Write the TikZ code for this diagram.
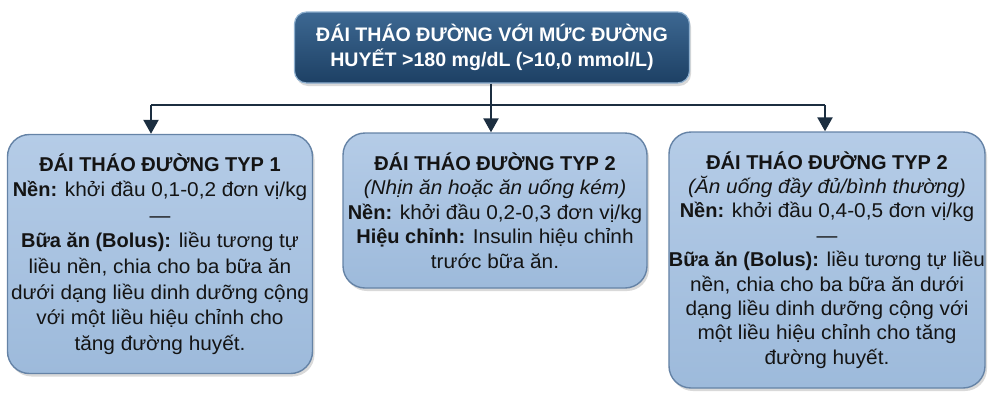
\documentclass[tikz,border=0pt]{standalone}
\usepackage{fontspec}
\setmainfont{Liberation Sans}[FakeStretch=1.04, BoldFont={Liberation Sans Bold}, BoldFeatures={FakeStretch=1.0}]
\usetikzlibrary{arrows.meta,shadows}
\definecolor{navytop}{HTML}{3D6892}
\definecolor{navybot}{HTML}{1D4064}
\definecolor{navyedge}{HTML}{8FB0CF}
\definecolor{boxtop}{HTML}{B5CCE7}
\definecolor{boxbot}{HTML}{9DBADB}
\definecolor{boxedge}{HTML}{6583A6}
\definecolor{linec}{HTML}{1C2E40}
\definecolor{txt}{HTML}{141414}
\tikzset{
  headbox/.style={draw=navyedge, line width=1.2pt, rounded corners=12pt,
    top color=navytop, bottom color=navybot, text=white, font=\bfseries\fontsize{19.6}{25}\selectfont,
    align=center, minimum width=395pt, minimum height=71pt, inner sep=0pt,
    drop shadow={opacity=0.3, shadow xshift=1.5pt, shadow yshift=-3pt}},
  infobox/.style={draw=boxedge, line width=1.4pt, rounded corners=22pt,
    top color=boxtop, bottom color=boxbot, text=txt, font=\fontsize{20}{24.4}\selectfont,
    align=center, inner sep=0pt,
    drop shadow={opacity=0.3, shadow xshift=2pt, shadow yshift=-3pt}},
  conn/.style={draw=linec, line width=2.4pt},
  arr/.style={conn, -{Triangle[width=15pt,length=14pt]}}
}
\begin{document}
\begin{tikzpicture}[x=1pt,y=1pt]
\useasboundingbox (0,0) rectangle (988,-405);
\node[headbox] (top) at (492,-47.5) {ĐÁI THÁO ĐƯỜNG VỚI MỨC ĐƯỜNG\\HUYẾT >180 mg/dL (>10,0 mmol/L)};
\node[infobox, minimum width=305pt, minimum height=239pt, font=\fontsize{20}{25.6}\selectfont] (b1) at (160,-254)
  {\textbf{ĐÁI THÁO ĐƯỜNG TYP 1}\\
   \textbf{Nền:} khởi đầu 0,1-0,2 đơn vị/kg\\
   —\\
   \textbf{Bữa ăn (Bolus):} liều tương tự\\
   liều nền, chia cho ba bữa ăn\\
   dưới dạng liều dinh dưỡng cộng\\
   với một liều hiệu chỉnh cho\\
   tăng đường huyết.};
\node[infobox, minimum width=304pt, minimum height=155pt] (b2) at (495,-210.5)
  {\textbf{ĐÁI THÁO ĐƯỜNG TYP 2}\\
   \textit{(Nhịn ăn hoặc ăn uống kém)}\\
   \textbf{Nền:} khởi đầu 0,2-0,3 đơn vị/kg\\
   \textbf{Hiệu chỉnh:} Insulin hiệu chỉnh\\
   trước bữa ăn.};
\node[infobox, minimum width=309pt, minimum height=256pt] (b3) at (827,-260)
  {\textbf{ĐÁI THÁO ĐƯỜNG TYP 2}\\
   \textit{(Ăn uống đầy đủ/bình thường)}\\
   \textbf{Nền:} khởi đầu 0,4-0,5 đơn vị/kg\\
   —\\
   \textbf{Bữa ăn (Bolus):} liều tương tự liều\\
   nền, chia cho ba bữa ăn dưới\\
   dạng liều dinh dưỡng cộng với\\
   một liều hiệu chỉnh cho tăng\\
   đường huyết.};
\coordinate (j) at (491,-105);
\coordinate (jl) at (151,-105);
\coordinate (jr) at (825,-105);
\draw[conn] (top.south -| j) -- (j);
\draw[conn] (jl) -- (jr);
\draw[arr] (j) -- (j |- b2.north);
\draw[arr] (jl) -- (jl |- b1.north);
\draw[arr] (jr) -- (jr |- b3.north);
\end{tikzpicture}
\end{document}
